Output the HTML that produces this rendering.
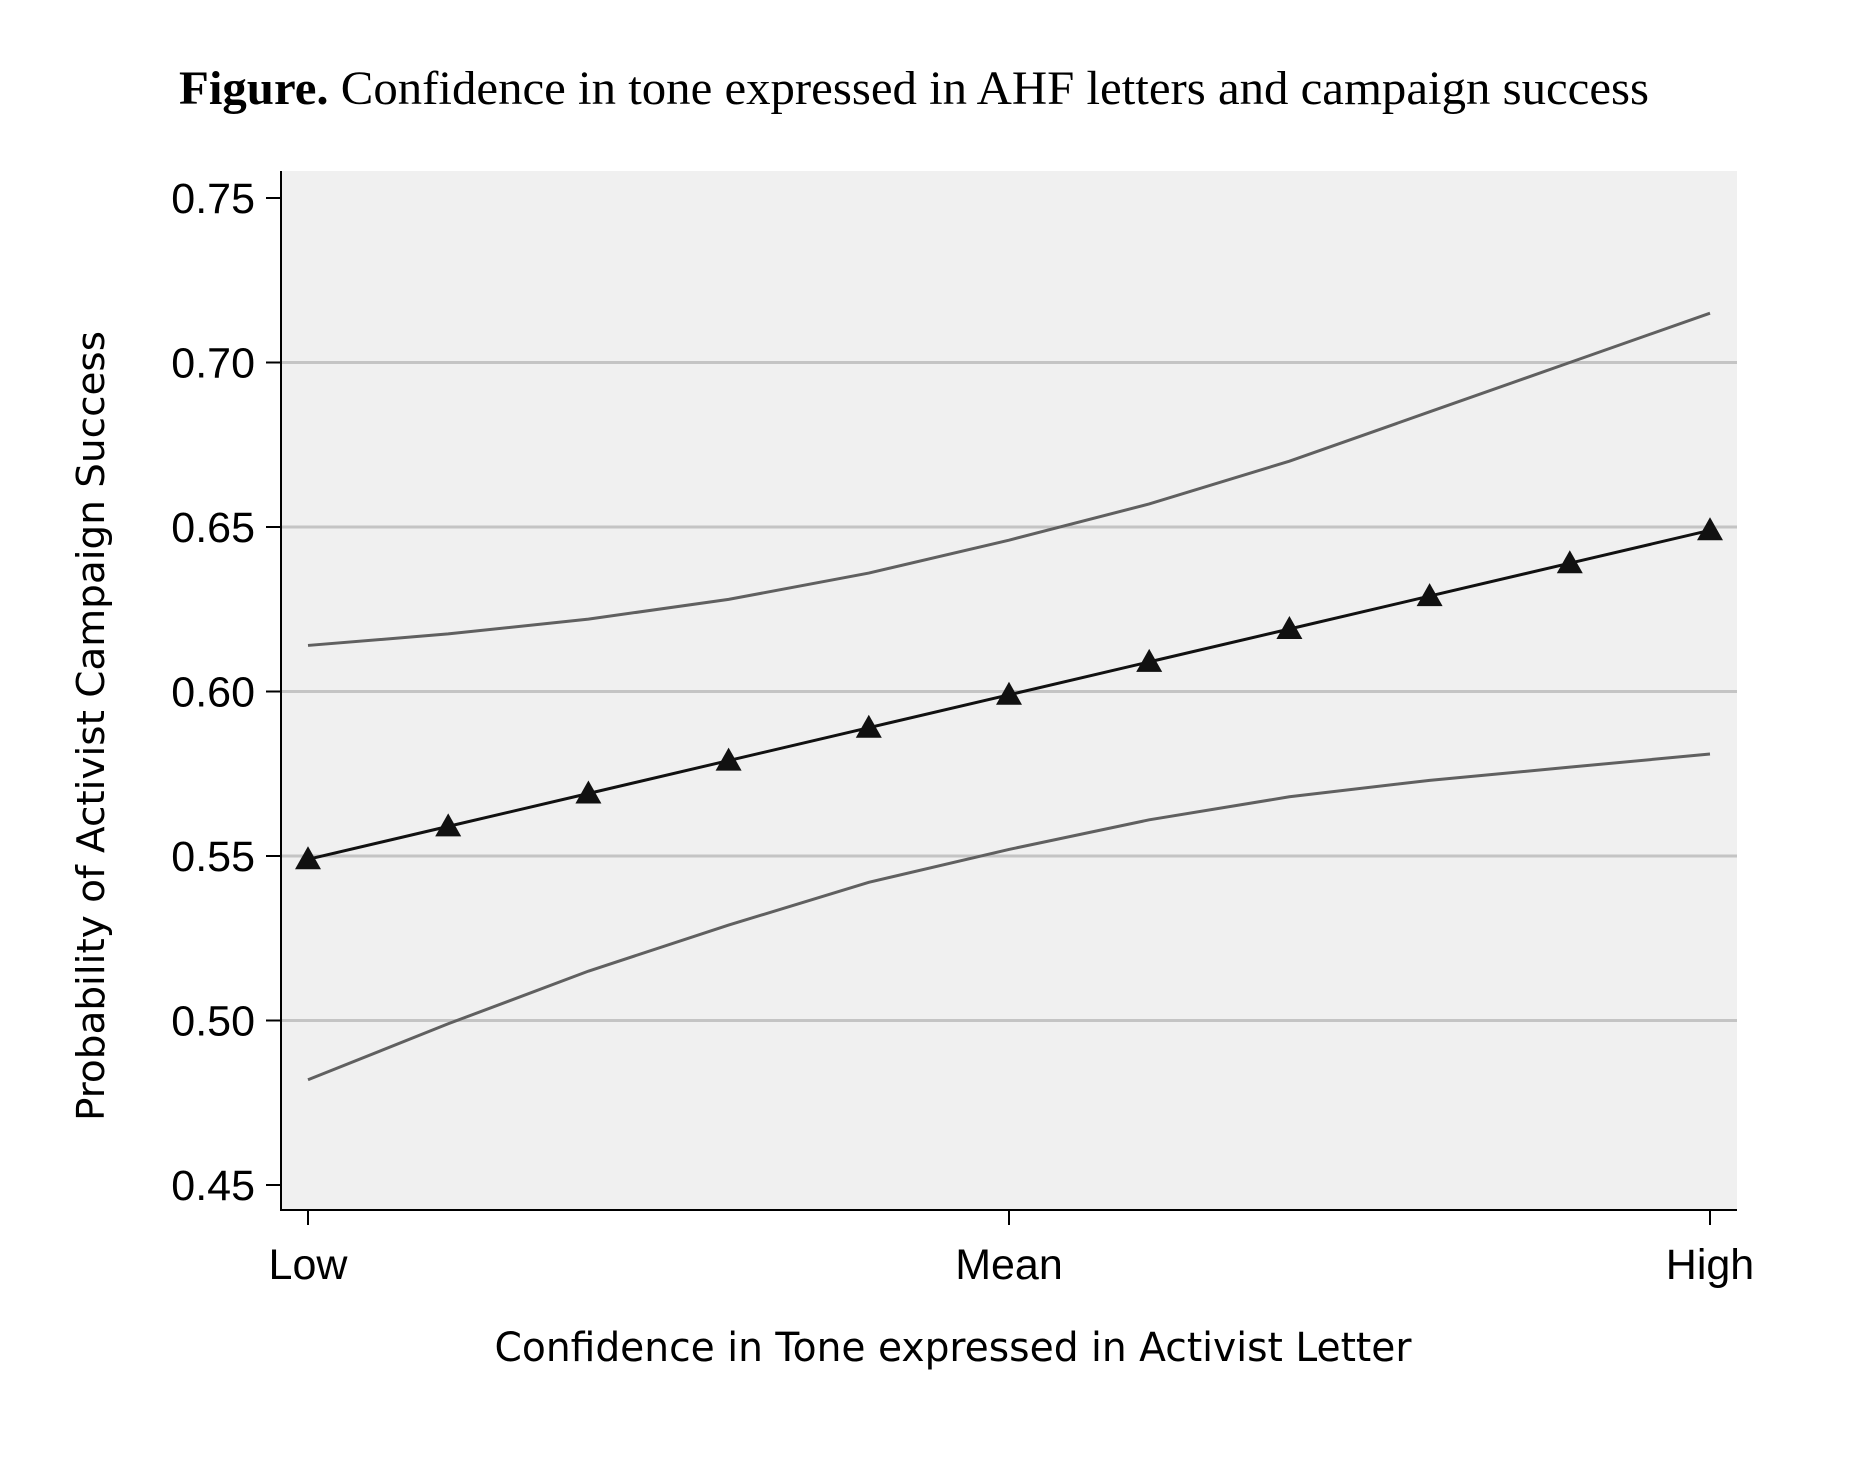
<!DOCTYPE html>
<html><head><meta charset="utf-8"><style>
body{margin:0;background:#fff;}
svg text{font-family:"Liberation Sans",sans-serif;}
</style></head><body>
<svg id="chart" width="1852" height="1452" viewBox="0 0 1852 1452" xmlns="http://www.w3.org/2000/svg">
<rect width="1852" height="1452" fill="#fff"/>
<text x="914" y="104" text-anchor="middle" font-size="48" style="font-family:'Liberation Serif',serif" textLength="1470" lengthAdjust="spacingAndGlyphs"><tspan font-weight="bold">Figure.</tspan> Confidence in tone expressed in AHF letters and campaign success</text>
<rect x="281" y="171" width="1456" height="1039" fill="#f0f0f0"/>
<g id="grid"></g>
<g id="axes"></g>
<g id="series"></g>
<text transform="translate(104,726) rotate(-90)" text-anchor="middle" font-size="38" style="font-family:'DejaVu Sans',sans-serif" textLength="790" lengthAdjust="spacingAndGlyphs">Probability of Activist Campaign Success</text>
<text x="953" y="1361" text-anchor="middle" font-size="40" style="font-family:'DejaVu Sans',sans-serif" textLength="917" lengthAdjust="spacingAndGlyphs">Confidence in Tone expressed in Activist Letter</text>
</svg>
<script>
const xValues=[0,1,2,3,4,5,6,7,8,9,10];
const predicted=[0.549,0.559,0.569,0.579,0.589,0.599,0.609,0.619,0.629,0.639,0.649];
const upperCI=[0.614,0.6175,0.622,0.628,0.636,0.646,0.657,0.670,0.685,0.700,0.715];
const lowerCI=[0.482,0.499,0.515,0.529,0.542,0.552,0.561,0.568,0.573,0.577,0.581];
const yTicks=[0.45,0.50,0.55,0.60,0.65,0.70,0.75];
const yTickLabels=["0.45","0.50","0.55","0.60","0.65","0.70","0.75"];
const xTicks=[0,5,10];
const xTickLabels=["Low","Mean","High"];

const NS="http://www.w3.org/2000/svg";
const X=v=>308+(v-0)/(10-0)*(1710-308);
const Y=v=>1185-(v-0.45)/(0.30)*(1185-198);
function mk(tag,attrs,parent){const e=document.createElementNS(NS,tag);for(const k in attrs)e.setAttribute(k,attrs[k]);parent.appendChild(e);return e;}
const grid=document.getElementById('grid'),axes=document.getElementById('axes'),series=document.getElementById('series');
yTicks.forEach((t,i)=>{
  if(i>0&&i<yTicks.length-1){const g=mk('line',{x1:281,x2:1737,y1:Y(t),y2:Y(t),stroke:'#c4c4c4','stroke-width':3},grid);
  
  }
  const tk=mk('line',{x1:266,x2:281,y1:Y(t),y2:Y(t),stroke:'#000','stroke-width':2},axes);
  
  
  const tx=mk('text',{x:255,y:Y(t)+15,'text-anchor':'end','font-size':43},axes);
  tx.textContent=yTickLabels[i];
  
  
});
xTicks.forEach((t,i)=>{
  const tk=mk('line',{x1:X(t),x2:X(t),y1:1210,y2:1225,stroke:'#000','stroke-width':2},axes);
  
  
  const tx=mk('text',{x:X(t),y:1279,'text-anchor':'middle','font-size':43},axes);
  tx.textContent=xTickLabels[i];
  
  
});
const ya=mk('line',{x1:281,x2:281,y1:171,y2:1211,stroke:'#000','stroke-width':2},axes);


const xa=mk('line',{x1:280,x2:1737,y1:1210,y2:1210,stroke:'#000','stroke-width':2},axes);


function pts(arr){return arr.map((v,i)=>X(xValues[i])+','+Y(v)).join(' ');}
const up=mk('polyline',{points:pts(upperCI),fill:'none',stroke:'#606060','stroke-width':3},series);


const lo=mk('polyline',{points:pts(lowerCI),fill:'none',stroke:'#606060','stroke-width':3},series);


const pr=mk('polyline',{points:pts(predicted),fill:'none',stroke:'#111','stroke-width':3},series);


predicted.forEach((v,i)=>{
  const cx=X(xValues[i]),cy=Y(v);
  const m=mk('polygon',{points:`${cx},${cy-13} ${cx-13},${cy+10} ${cx+13},${cy+10}`,fill:'#111'},series);
  
  
});
</script>
</body></html>
